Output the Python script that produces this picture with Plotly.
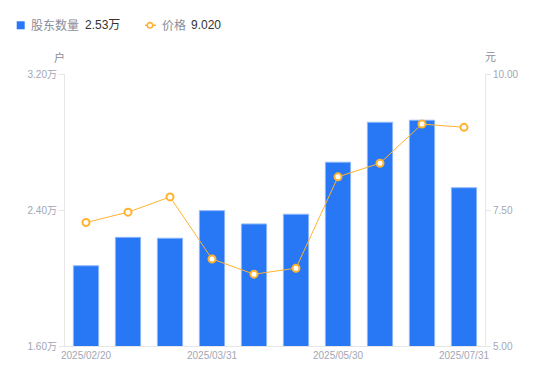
import plotly.graph_objects as go

dates = ["2025/02/20", "2025/02/28", "2025/03/10", "2025/03/31", "2025/04/18",
         "2025/04/30", "2025/05/30", "2025/06/20", "2025/06/30", "2025/07/31"]
holders_wan = [2.072, 2.239, 2.234, 2.396, 2.318, 2.375, 2.681, 2.916, 2.928, 2.531]
price = [7.27, 7.46, 7.74, 6.60, 6.32, 6.43, 8.11, 8.36, 9.08, 9.020]
x_tick_labels = ["2025/02/20", "2025/03/31", "2025/05/30", "2025/07/31"]
left_ticks = [1.6, 2.4, 3.2]
right_ticks = [5.0, 7.5, 10.0]
series_names = ["股东数量", "价格"]

FONT = "Liberation Sans, Arial, Noto Sans CJK SC, sans-serif"
AX = "#a3a6b4"
NAME = "#8a8d99"
LINE = "#e6e6e6"
BLUE = "#2878f5"
ORANGE = "#ffb330"

# plot area in pixels
L, R, T, B = 65, 485, 74, 346
W, H = R - L, B - T


def px(x):
    return (x - L) / W


def py(y):
    return (B - y) / H


fig = go.Figure()
fig.add_trace(go.Bar(
    x=dates, y=holders_wan, width=0.6,
    marker=dict(color=BLUE, line=dict(color="#8db6fa", width=1)),
    name=series_names[0], yaxis="y", hoverinfo="skip", showlegend=False,
))
fig.add_trace(go.Scatter(
    x=dates, y=price, mode="lines+markers",
    line=dict(color=ORANGE, width=1),
    marker=dict(symbol="circle", size=7, color="white", line=dict(color=ORANGE, width=2)),
    name=series_names[1], yaxis="y2", hoverinfo="skip", showlegend=False,
))

ly = 25.3
shapes = [
    dict(type="rect", xref="paper", yref="paper", x0=px(16.7), x1=px(24.7),
         y0=py(29.3), y1=py(21.3), fillcolor=BLUE, line=dict(width=0)),
    dict(type="line", xref="paper", yref="paper", x0=px(145), x1=px(156),
         y0=py(ly), y1=py(ly), line=dict(color=ORANGE, width=1.5)),
    dict(type="circle", xref="paper", yref="paper", x0=px(147.3), x1=px(152.7),
         y0=py(ly + 2.7), y1=py(ly - 2.7), fillcolor="white", line=dict(color=ORANGE, width=1.6)),
]


def legend_text(text, x, color):
    return dict(text=text, xref="paper", yref="paper", x=px(x - 2), y=py(ly), showarrow=False,
                xanchor="left", yanchor="middle", font=dict(size=12, color=color, family=FONT))


annotations = [
    legend_text(series_names[0], 30.7, NAME),
    legend_text("%.2f万" % holders_wan[-1], 85, "#333333"),
    legend_text(series_names[1], 161.7, NAME),
    legend_text("%.3f" % price[-1], 191, "#333333"),
    dict(text="户", xref="paper", yref="paper", x=px(59), y=py(57), showarrow=False,
         font=dict(size=11, color=NAME), xanchor="center", yanchor="middle"),
    dict(text="元", xref="paper", yref="paper", x=px(490), y=py(57), showarrow=False,
         font=dict(size=11, color=NAME), xanchor="center", yanchor="middle"),
]

fig.update_layout(
    width=550, height=381,
    margin=dict(l=L, r=550 - R, t=T, b=381 - B, autoexpand=False),
    paper_bgcolor="white", plot_bgcolor="white",
    font=dict(family=FONT, size=10, color=AX),
    showlegend=False,
    xaxis=dict(type="category", categoryorder="array", categoryarray=dates,
               tickmode="array", tickvals=x_tick_labels, ticktext=x_tick_labels,
               showline=True, linecolor=LINE, linewidth=1, ticks="",
               showgrid=False, zeroline=False, range=[-0.5, len(dates) - 0.5],
               automargin=False, tickfont=dict(size=10, color=AX)),
    yaxis=dict(range=[left_ticks[0], left_ticks[-1]], tickmode="array", tickvals=left_ticks,
               ticktext=["%.2f万" % v for v in left_ticks],
               showline=True, linecolor=LINE, linewidth=1, ticks="outside", ticklen=5,
               tickcolor=LINE, showgrid=False, zeroline=False, automargin=False,
               tickfont=dict(size=10, color=AX)),
    yaxis2=dict(range=[right_ticks[0], right_ticks[-1]], tickmode="array", tickvals=right_ticks,
                ticktext=["%.2f" % v for v in right_ticks], overlaying="y", side="right",
                showline=True, linecolor=LINE, linewidth=1, ticks="outside", ticklen=5,
                tickcolor=LINE, showgrid=False, zeroline=False, automargin=False,
                tickfont=dict(size=10, color=AX)),
    shapes=shapes,
    annotations=annotations,
)

fig.write_html("out.html", config={"displayModeBar": False},
               post_script="document.body.style.margin='0';document.body.style.padding='0';")
